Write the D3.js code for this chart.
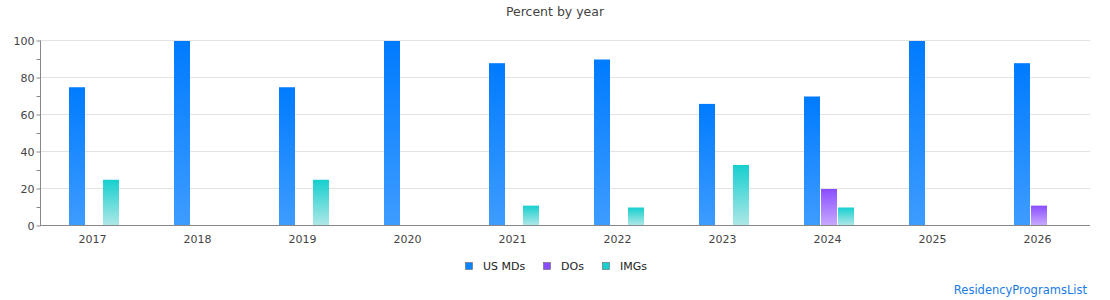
<!DOCTYPE html>
<html><head><meta charset="utf-8">
<script src="https://cdn.jsdelivr.net/npm/d3@7"></script>
<style>
body{margin:0;background:#fff;}
text{font-family:"DejaVu Sans",Verdana,sans-serif;}
</style></head>
<body><svg id="c" width="1110" height="300"></svg>
<script>
const years = ["2017","2018","2019","2020","2021","2022","2023","2024","2025","2026"];
const seriesNames = ["US MDs","DOs","IMGs"];
const usMDs = [75,100,75,100,88,90,66,70,100,88];
const dos   = [0,0,0,0,0,0,0,20,0,11];
const imgs  = [25,0,25,0,11,10,33,10,0,0];
const yTicks = [0,20,40,60,80,100];
const topColors = ["#007bff","#8a4dff","#17cfcf"];
const botColors = ["#3e9cff","#c7a8ff","#ade7e7"];
const legendColors = ["#0a84ff","#8a4dff","#17cfcf"];

const svg = d3.select("#c");
const m = {l:40, r:1090, t:40, b:225};
const x = d3.scaleBand().domain(years).range([m.l, m.r]);
const xi = d3.scaleBand().domain(seriesNames).range([0, 50]).paddingInner(0.02);
const y = d3.scaleLinear().domain([0,100]).range([m.b, m.t]);

const defs = svg.append("defs");
seriesNames.forEach((s,i)=>{
  const g = defs.append("linearGradient").attr("id","g"+i).attr("x1",0).attr("y1",0).attr("x2",0).attr("y2",1);
  g.append("stop").attr("offset","0%").attr("stop-color",topColors[i]);
  g.append("stop").attr("offset","100%").attr("stop-color",botColors[i]);
});

// gridlines
svg.append("g").selectAll("line").data(yTicks.slice(1)).join("line")
  .attr("x1",m.l).attr("x2",m.r).attr("y1",d=>y(d)+0.5).attr("y2",d=>y(d)+0.5)
  .attr("stroke","#e3e3e3").attr("stroke-width",1);

// bars
const data = [usMDs, dos, imgs];
const groups = svg.append("g").selectAll("g").data(years).join("g")
  .attr("transform",d=>`translate(${x(d)+x.bandwidth()/2-25+1.5},0)`);
groups.selectAll("rect").data((d,i)=>seriesNames.map((s,k)=>({s,k,v:data[k][i]})).filter(o=>o.v>0))
  .join("rect")
  .attr("x",o=>Math.round(xi(o.s)))
  .attr("width",16)
  .attr("y",o=>y(o.v)+1)
  .attr("height",o=>y(0)-y(o.v)-1)
  .attr("fill",o=>`url(#g${o.k})`);

// y axis
const yAxis = d3.axisLeft(y).tickValues(d3.range(0,101,10)).tickSize(4)
  .tickFormat(d=> d%20===0 ? d : "");
const ga = svg.append("g").attr("transform",`translate(${m.l+0.5},0.5)`).call(yAxis);
ga.select(".domain").attr("stroke","#888").attr("d",`M-0,${m.t}V${m.b}`);
ga.selectAll(".tick line").attr("stroke","#888");
ga.selectAll(".tick text").attr("fill","#444").attr("font-size",11).attr("x",-6);

// x axis
const xAxis = d3.axisBottom(x).tickSize(0).tickPadding(10);
const gx = svg.append("g").attr("transform",`translate(0,${m.b+0.5})`).call(xAxis);
gx.select(".domain").attr("stroke","#888").attr("d",`M${m.l},0H${m.r}`);
gx.selectAll(".tick text").attr("fill","#444").attr("font-size",11);

// title
svg.append("text").attr("x",555).attr("y",16).attr("text-anchor","middle")
  .attr("font-size",12.5).attr("fill","#444").text("Percent by year");

// legend
const legX = [465, 543, 602];
const lg = svg.append("g").selectAll("g").data(seriesNames).join("g")
  .attr("transform",(d,i)=>`translate(${legX[i]},262)`);
lg.append("rect").attr("x",0.5).attr("y",0.5).attr("width",7).attr("height",7)
  .attr("fill",(d,i)=>legendColors[i]).attr("stroke","#666").attr("stroke-width",0.6);
lg.append("text").attr("x",18).attr("y",7.5).attr("font-size",11).attr("fill","#222").text(d=>d);

svg.append("text").attr("x",1087).attr("y",294).attr("text-anchor","end")
  .attr("font-size",11.5).attr("fill","#1a7be6").text("ResidencyProgramsList");
</script></body></html>
